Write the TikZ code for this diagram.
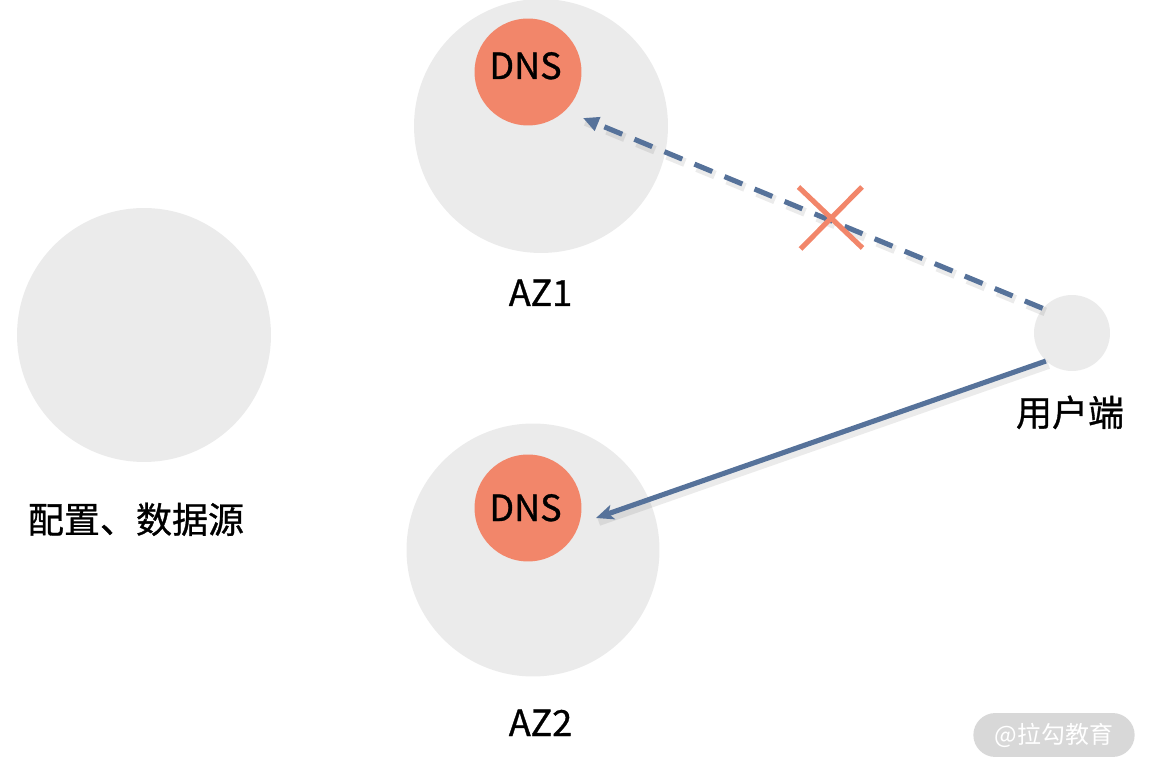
\documentclass[tikz,border=0pt]{standalone}
\usepackage{fontspec}
\setmainfont{Noto Sans CJK SC}
\newfontfamily\lblfont{Noto Sans CJK SC}[FakeBold=0.9]
\usetikzlibrary{arrows.meta,calc}
\definecolor{zonegray}{HTML}{EBEBEB}
\definecolor{dnsorange}{HTML}{F2866A}
\definecolor{arrowblue}{HTML}{56729A}
\definecolor{markgray}{HTML}{D8D8D8}
\tikzset{
  zone/.style={circle, fill=zonegray, inner sep=0pt, minimum size=5.08cm},
  dnsnode/.style={circle, fill=dnsorange, inner sep=0pt, minimum size=2.14cm},
  usernode/.style={circle, fill=zonegray, inner sep=0pt, minimum size=1.52cm},
  lbl/.style={anchor=base, inner sep=0pt, font=\lblfont\fontsize{20.5pt}{24pt}\selectfont, text=black},
  flow/.style={draw=arrowblue, line width=2.9pt},
  shadowline/.style={draw=black, opacity=0.08, line width=5pt, transform canvas={shift={(1.5pt,-2pt)}}},
  failmark/.style={draw=dnsorange, line width=2.9pt},
}
\begin{document}
\begin{tikzpicture}[x=0.02cm, y=-0.02cm]
\useasboundingbox (0,0) rectangle (1150,773);
% zones
\node[zone] (src) at (144,335) {};
\node[zone] (az1) at (541,126) {};
\node[zone, minimum size=5.06cm] (az2) at (533,550) {};
\node[dnsnode] (dns1) at (528,72) {};
\node[dnsnode] (dns2) at (528,508) {};
\node[usernode] (user) at (1072,333) {};
% labels
\node[lbl] (dns1t) at (525.5,79) {DNS};
\node[lbl] (dns2t) at (525.5,521) {DNS};
\node[lbl] (az1t) at (540.5,306) {AZ1};
\node[lbl] (az2t) at (540.5,736) {AZ2};
\node[lbl] (usert) at (1070,426) {用户端};
\node[lbl] (srct) at (136,533) {配置、数据源};
% arrow end points
\coordinate (t1) at (583,118);
\coordinate (t2) at (596,518);
% shadows
\draw[shadowline, dash pattern=on 11pt off 7.5pt] (user.140) -- (t1);
\draw[shadowline] (user.227) -- (t2);
% connectors
\draw[flow, dash pattern=on 11pt off 7.5pt, -{Triangle[length=9pt, width=8pt]}] (user.140) -- (t1);
\draw[flow, -{Stealth[length=10pt, width=8.5pt, inset=2.5pt]}] (user.227) -- (t2);
% failure cross
\coordinate (x0) at (830.5,217.5);
\draw[failmark] ($(x0)+(-32,-30.5)$) -- ($(x0)+(32,30.5)$);
\draw[failmark] ($(x0)+(31.5,-30.5)$) -- ($(x0)+(-30,31.5)$);
% watermark
\node[fill=markgray, rounded corners=12.5pt, minimum width=91.8pt, minimum height=25pt, inner sep=0pt,
      text=white, font=\fontsize{13.6pt}{16pt}\selectfont] (wm) at (1054,735) {@拉勾教育};
\end{tikzpicture}
\end{document}
